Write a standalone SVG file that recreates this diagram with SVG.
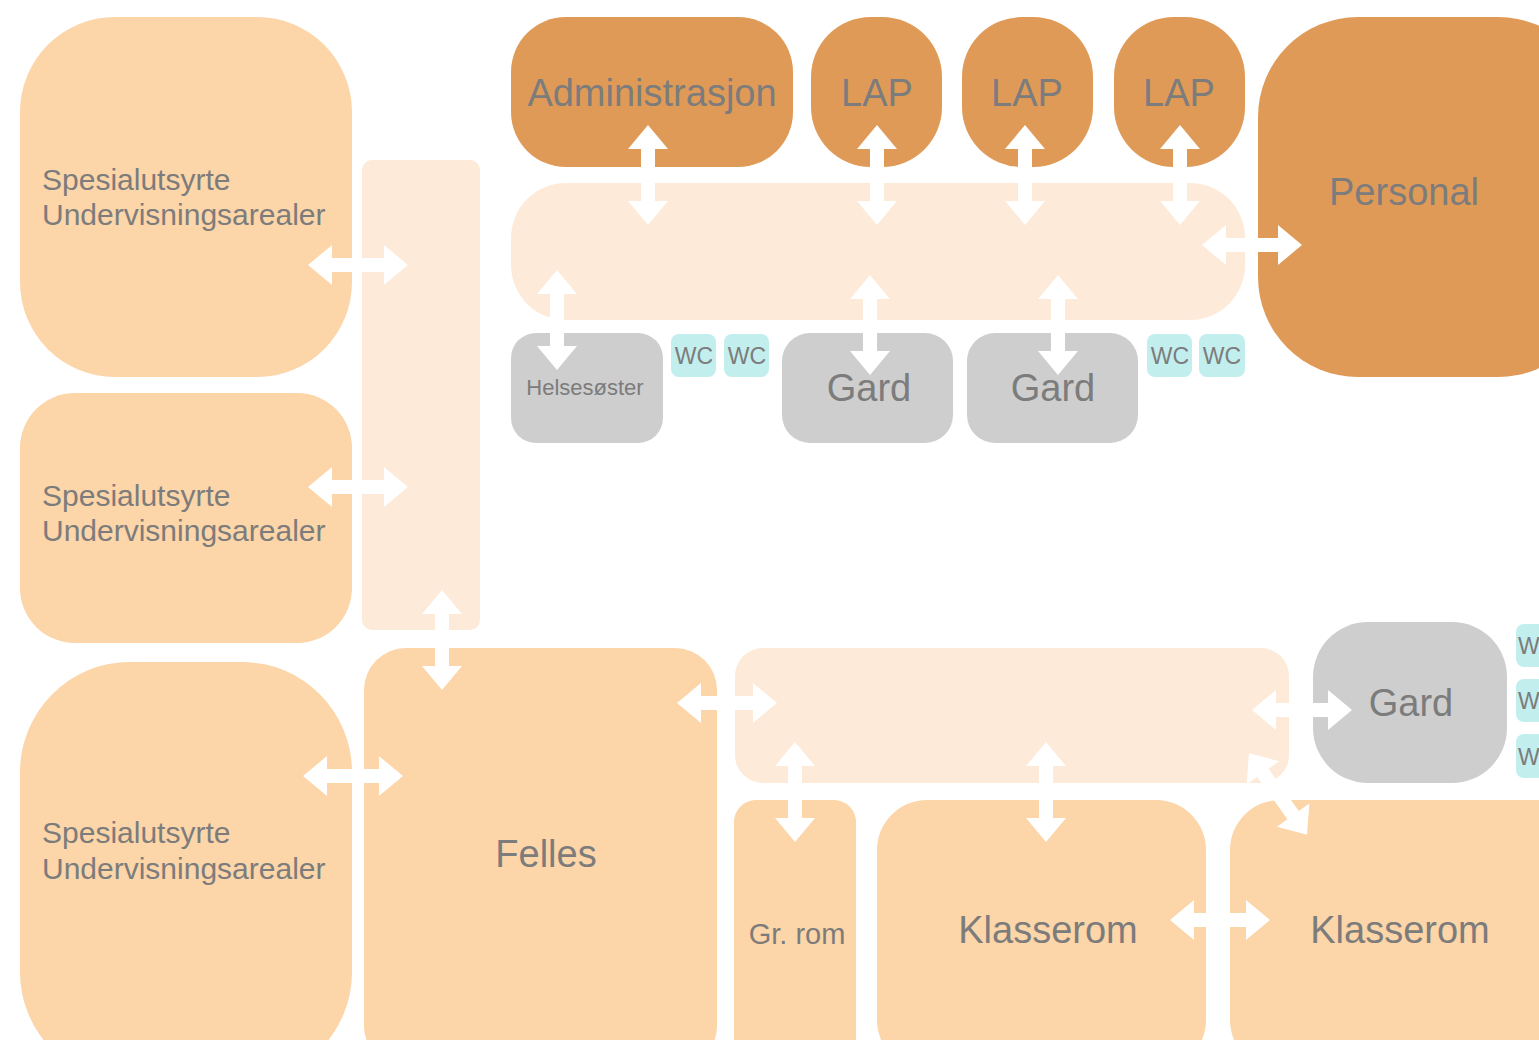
<svg xmlns="http://www.w3.org/2000/svg" width="1539" height="1040" viewBox="0 0 1539 1040">
<style>
.lo{fill:#FCD5A8}
.do{fill:#E09A57}
.co{fill:#FDEAD8}
.gr{fill:#CECECE}
.wc{fill:#C3EEEE}
text{font-family:"Liberation Sans",Arial,sans-serif;fill:#7C7C7C}
.big{font-size:38px;text-anchor:middle}
.sp{font-size:30px}
.w{font-size:23px;text-anchor:middle}
.arr{fill:#FFFFFF}
</style>
<defs>
<path id="dbl" d="M-50,0 L-26,-20 L-26,-7 L26,-7 L26,-20 L50,0 L26,20 L26,7 L-26,7 L-26,20 Z"/>
</defs>
<rect width="1539" height="1040" fill="#FFFFFF"/>

<g id="corridor-v"><rect class="co" x="362" y="160" width="118" height="470" rx="10"/></g>
<g id="corridor-top"><rect class="co" x="511" y="183" width="734" height="137" rx="55"/></g>
<g id="corridor-bottom"><rect class="co" x="735" y="648" width="554" height="135" rx="28"/></g>

<g id="spes1"><rect class="lo" x="20" y="17" width="332" height="360" rx="95"/>
<text class="sp" x="42" y="190">Spesialutsyrte</text><text class="sp" x="42" y="225">Undervisningsarealer</text></g>
<g id="spes2"><rect class="lo" x="20" y="393" width="332" height="250" rx="55"/>
<text class="sp" x="42" y="506">Spesialutsyrte</text><text class="sp" x="42" y="541">Undervisningsarealer</text></g>
<g id="spes3"><rect class="lo" x="20" y="662" width="332" height="420" rx="110"/>
<text class="sp" x="42" y="843">Spesialutsyrte</text><text class="sp" x="42" y="879">Undervisningsarealer</text></g>

<g id="admin"><rect class="do" x="511" y="17" width="282" height="150" rx="55"/>
<text class="big" x="652" y="106">Administrasjon</text></g>
<g id="lap1"><rect class="do" x="811" y="17" width="131" height="150" rx="60"/>
<text class="big" x="877" y="106">LAP</text></g>
<g id="lap2"><rect class="do" x="962" y="17" width="131" height="150" rx="60"/>
<text class="big" x="1027" y="106">LAP</text></g>
<g id="lap3"><rect class="do" x="1114" y="17" width="131" height="150" rx="60"/>
<text class="big" x="1179" y="106">LAP</text></g>
<g id="personal"><rect class="do" x="1258" y="17" width="340" height="360" rx="100"/>
<text class="big" x="1404" y="205">Personal</text></g>

<g id="helsesoster"><rect class="gr" x="511" y="333" width="152" height="110" rx="25"/>
<text x="585" y="395" style="font-size:22px;text-anchor:middle">Helsesøster</text></g>
<g id="wc1"><rect class="wc" x="671" y="334" width="45" height="43" rx="8"/><text class="w" x="694" y="364">WC</text></g>
<g id="wc2"><rect class="wc" x="724" y="334" width="45" height="43" rx="8"/><text class="w" x="747" y="364">WC</text></g>
<g id="gard1"><rect class="gr" x="782" y="333" width="171" height="110" rx="28"/>
<text class="big" x="869" y="401">Gard</text></g>
<g id="gard2"><rect class="gr" x="967" y="333" width="171" height="110" rx="28"/>
<text class="big" x="1053" y="401">Gard</text></g>
<g id="wc3"><rect class="wc" x="1147" y="334" width="45" height="43" rx="8"/><text class="w" x="1170" y="364">WC</text></g>
<g id="wc4"><rect class="wc" x="1199" y="334" width="46" height="43" rx="8"/><text class="w" x="1222" y="364">WC</text></g>

<g id="felles"><rect class="lo" x="364" y="648" width="353" height="420" rx="42"/>
<text class="big" x="546" y="867">Felles</text></g>
<g id="gard3"><rect class="gr" x="1313" y="622" width="194" height="161" rx="55"/>
<text class="big" x="1411" y="716">Gard</text></g>
<g id="wc5"><rect class="wc" x="1516" y="624" width="40" height="43" rx="8"/><text class="w" x="1534" y="654" style="text-anchor:start" dx="-16">WC</text></g>
<g id="wc6"><rect class="wc" x="1516" y="679" width="40" height="43" rx="8"/><text class="w" x="1534" y="709" style="text-anchor:start" dx="-16">WC</text></g>
<g id="wc7"><rect class="wc" x="1516" y="734" width="40" height="44" rx="8"/><text class="w" x="1534" y="765" style="text-anchor:start" dx="-16">WC</text></g>
<g id="grrom"><rect class="lo" x="734" y="800" width="122" height="270" rx="22"/>
<text x="797" y="944" style="font-size:29px;text-anchor:middle">Gr. rom</text></g>
<g id="klasserom1"><rect class="lo" x="877" y="800" width="329" height="270" rx="50"/>
<text class="big" x="1048" y="943">Klasserom</text></g>
<g id="klasserom2"><rect class="lo" x="1230" y="800" width="360" height="270" rx="50"/>
<text class="big" x="1400" y="943">Klasserom</text></g>

<g id="connectors" class="arr">
<use href="#dbl" transform="translate(358,265)"/>
<use href="#dbl" transform="translate(358,487)"/>
<use href="#dbl" transform="translate(442,640) rotate(90)"/>
<use href="#dbl" transform="translate(353,776)"/>
<use href="#dbl" transform="translate(727,703)"/>
<use href="#dbl" transform="translate(648,175) rotate(90)"/>
<use href="#dbl" transform="translate(877,175) rotate(90)"/>
<use href="#dbl" transform="translate(1025,175) rotate(90)"/>
<use href="#dbl" transform="translate(1180,175) rotate(90)"/>
<use href="#dbl" transform="translate(1252,245)"/>
<use href="#dbl" transform="translate(557,320) rotate(90)"/>
<use href="#dbl" transform="translate(870,325) rotate(90)"/>
<use href="#dbl" transform="translate(1058,325) rotate(90)"/>
<use href="#dbl" transform="translate(1302,710)"/>
<use href="#dbl" transform="translate(795,792) rotate(90)"/>
<use href="#dbl" transform="translate(1046,792) rotate(90)"/>
<use href="#dbl" transform="translate(1278,794) rotate(54.5)"/>
<use href="#dbl" transform="translate(1220,920)"/>
</g>
</svg>
